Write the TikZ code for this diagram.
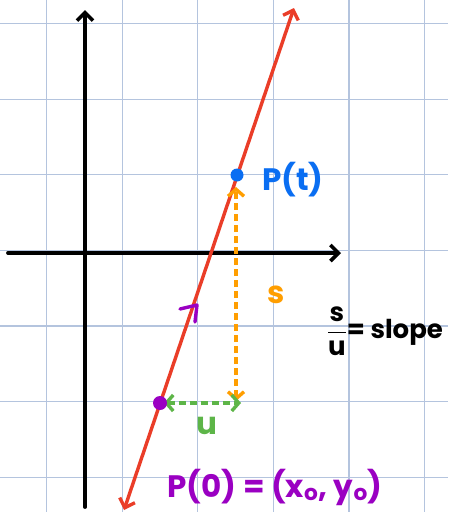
\documentclass[tikz,border=0pt]{standalone}
\usepackage{fontspec}
\setmainfont{Poppins}
\usetikzlibrary{arrows.meta}
\definecolor{gridc}{HTML}{B4C4DE}
\definecolor{redl}{HTML}{EA3D28}
\definecolor{bluep}{HTML}{0A6EF2}
\definecolor{orangel}{HTML}{FF9E00}
\definecolor{greenl}{HTML}{5DB548}
\definecolor{purplel}{HTML}{9A00C2}
\tikzset{
  gridline/.style={gridc, line width=1.2pt},
  axis/.style={black, line width=3.8pt, line cap=round, -{Straight Barb[length=8pt,width=16pt,line width=3.6pt]}},
  redline/.style={redl, line width=3.4pt, line cap=round, {Straight Barb[length=8pt,width=16pt,line width=3.4pt]}-{Straight Barb[length=8pt,width=16pt,line width=3.4pt]}},
  dashv/.style={line width=3.4pt, dash pattern=on 7pt off 4pt, {Straight Barb[length=7pt,width=16pt,line width=3.4pt]}-{Straight Barb[length=7pt,width=16pt,line width=3.4pt]}},
  lbl/.style={inner sep=0pt, font=\fontsize{31}{34}\selectfont\bfseries}
}
\begin{document}
\begin{tikzpicture}[x=1pt,y=-1pt]
\useasboundingbox (0,0) rectangle (448,512);
\fill[white] (0,0) rectangle (448,512);
% grid
\foreach \gx in {46.5,122.1,197.7,273.3,348.9,424.5}
  \draw[gridline] (\gx,0) -- (\gx,512);
\foreach \gy in {23.5,99.1,174.7,250.3,325.9,401.5,477.1}
  \draw[gridline] (0,\gy) -- (448,\gy);
% axes
\coordinate (xs) at (8,253);
\coordinate (xe) at (341,253);
\coordinate (ys) at (85,507);
\coordinate (ye) at (85,10);
\draw[axis] (xs) -- (xe);
\draw[axis] (ys) -- (ye);
% red line
\coordinate (rb) at (124,510);
\coordinate (rt) at (294,8);
\draw[redline] (rb) -- (rt);
% points
\coordinate (pt) at (237,175);
\coordinate (p0) at (160,403);
\coordinate (vtop) at (236,187);
\coordinate (vbot) at (236,401);
\coordinate (hl) at (164,403);
\coordinate (hr) at (241,403);
% orange dashed
\draw[dashv, orangel] (vbot) -- (vtop);
% green dashed
\draw[dashv, greenl] (hl) -- (hr);
% dots
\fill[bluep] (pt) circle (6.5pt);
\fill[purplel] (p0) circle (7pt);
% purple direction mark
\coordinate (m1) at (180,309);
\coordinate (m2) at (197,305);
\coordinate (m3) at (195,322);
\draw[purplel, line width=3.4pt, line cap=round, line join=round] (m1) -- (m2) -- (m3);
% labels
\node[lbl, text=bluep] (lpt) at (293,180) {P(t)};
\node[lbl, text=orangel] (ls) at (276,295) {s};
\node[lbl, text=greenl] (lu) at (207,426) {u};
\node[lbl, text=purplel] (lp0) at (275,487) {P(0) = (x\textsubscript{o}, y\textsubscript{o})};
\node[lbl, text=black, font=\fontsize{26}{28}\selectfont\bfseries] (lslope) at (385,331) {$\displaystyle\frac{\mbox{s}}{\mbox{u}}$= slope};
\end{tikzpicture}
\end{document}
